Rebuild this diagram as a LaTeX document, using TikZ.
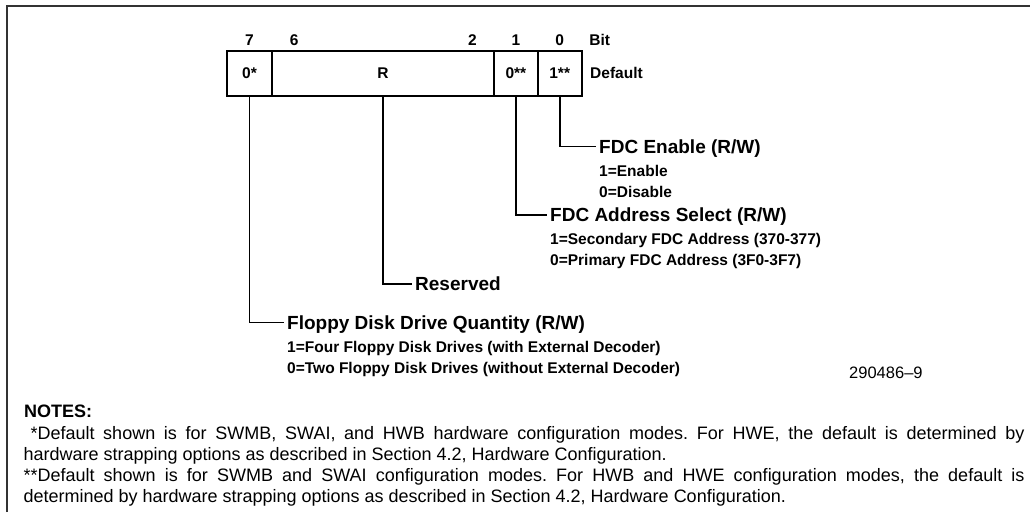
\documentclass[tikz,border=0pt]{standalone}
\usepackage{fontspec}
\setmainfont{Liberation Sans}
\usepackage{tikz}
\tikzset{field/.style={draw,line width=1.7pt,outer sep=0pt,inner sep=0pt,minimum height=45.3pt,font=\bfseries\fontsize{15.5}{18}\selectfont},
bit label/.style={inner sep=0pt,text height=11.1pt,text depth=0pt,font=\bfseries\fontsize{15.5}{18}\selectfont},
title/.style={anchor=west,inner xsep=3pt,inner ysep=0pt,text height=13.6pt,text depth=0pt,font=\bfseries\fontsize{19}{22}\selectfont},
value/.style={inner sep=0pt,text height=11.1pt,text depth=0pt,font=\bfseries\fontsize{15.5}{18}\selectfont},
wire/.style={draw,line width=1.7pt},
}
\usetikzlibrary{positioning}
\frenchspacing

\begin{document}
\begin{tikzpicture}[x=1pt,y=-1pt]
\useasboundingbox (0,0) rectangle (1030,512);
\draw[line width=2pt,black!80] (7.3,512) -- (7.3,5.5) -- (1030,5.5);

%% register
\node[field,minimum width=44.4pt] (b7) at (249.5,73.35) {0*};
\node[field,minimum width=222.3pt] (res) [right=0pt of b7] {R};
\node[field,minimum width=43.7pt] (b1) [right=0pt of res] {0**};
\node[field,minimum width=44pt] (b0) [right=0pt of b1] {1**};

\node[bit label] (n7) [above=5pt of b7.north] {7};
\node[bit label] (n6) [above right=5pt and 18pt of res.north west] {6};
\node[bit label] (n2) [above left=5pt and 17pt of res.north east] {2};
\node[bit label] (n1) [above=5pt of b1.north] {1};
\node[bit label] (n0) [above=5pt of b0.north] {0};
\node[bit label] (bit) [right=25pt of n0] {Bit};
\node[value] (dflt) [right=8.3pt of b0] {Default};

%% bit descriptions
\node[title] (fdcen) at (596,146.5) {FDC Enable (R/W)};
\node[value] (en1) [below right=11.6pt and 3pt of fdcen.south west] {1=Enable};
\node[value] (en0) [below right=9.6pt and 0pt of en1.south west] {0=Disable};

\node[title] (fdcad) at (547,214.9) {FDC Address Select (R/W)};
\node[value] (ad1) [below right=11.6pt and 3pt of fdcad.south west] {1=Secondary FDC Address (370-377)};
\node[value] (ad0) [below right=9.6pt and 0pt of ad1.south west] {0=Primary FDC Address (3F0-3F7)};

\node[title] (rsv) at (412,284) {Reserved};

\node[title] (fdq) at (284,322.5) {Floppy Disk Drive Quantity (R/W)};
\node[value] (fd1) [below right=11.6pt and 3pt of fdq.south west] {1=Four Floppy Disk Drives (with External Decoder)};
\node[value] (fd0) [below right=9.6pt and 0pt of fd1.south west] {0=Two Floppy Disk Drives (without External Decoder)};

\path[wire]
(b0.south) |- (fdcen.west)
(b1.south) |- (fdcad.west)
(res.south) |- (rsv.west)
(b7.south) |- (fdq.west)
;

\node[anchor=base west,inner sep=0pt,font=\fontsize{16.5}{19}\selectfont] (docno) at (849,378) {290486–9};

%% notes
\node[anchor=base west,inner sep=0pt,font=\bfseries\fontsize{18}{21}\selectfont] (notes) at (24,417) {NOTES:};
\node[anchor=north west,inner sep=0pt,text width=1001pt,align=justify,font=\fontsize{18}{21}\selectfont] (notetext) at (23.3,426) {\tolerance=9999 \hphantom{*}*Default shown is for SWMB, SWAI, and HWB hardware configuration modes. For HWE, the default is determined by\linebreak hardware strapping options as described in Section 4.2, Hardware Configuration.\\ \relax **Default shown is for SWMB and SWAI configuration modes. For HWB and HWE configuration modes, the default is\linebreak determined by hardware strapping options as described in Section 4.2, Hardware Configuration.};
\end{tikzpicture}
\end{document}
